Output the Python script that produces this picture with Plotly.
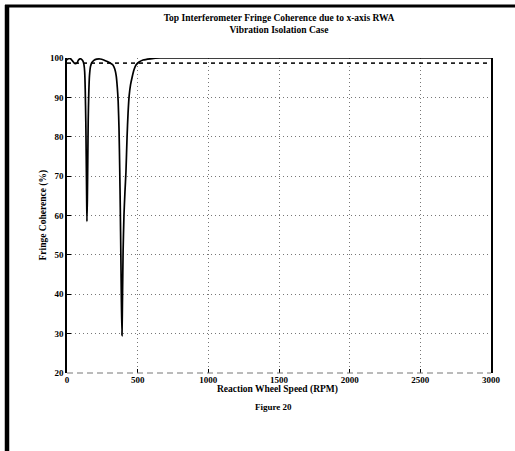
import plotly.graph_objects as go

# Reaction wheel speed (RPM) and fringe coherence (%)
rpm = [0, 12, 25, 40, 55, 70, 80, 92, 105, 113, 120, 125, 129, 133, 136, 139, 141,
       144, 147, 150, 154, 159, 166, 175, 190, 210, 235, 260, 285, 310, 325, 338,
       348, 356, 362, 368, 373, 377, 381, 385, 389, 393, 397, 403, 410, 417, 425,
       432, 440, 450, 460, 474, 488, 510, 538, 590, 660, 800, 1000, 1500, 2000,
       2500, 3000]
coherence = [99.5, 99.9, 99.8, 99.2, 98.6, 98.7, 99.4, 99.8, 99.6, 99.2, 98.3, 96.5,
             92.0, 84.0, 75.0, 65.0, 58.5, 64.0, 74.0, 84.0, 91.0, 95.5, 97.8, 98.8,
             99.4, 99.7, 99.75, 99.5, 99.1, 98.6, 98.2, 97.2, 95.5, 92.5, 89.0, 82.0,
             72.0, 62.0, 50.0, 38.0, 29.5, 40.0, 51.0, 60.0, 66.0, 71.0, 80.0, 86.0,
             90.5, 93.3, 95.0, 97.0, 98.2, 99.0, 99.5, 99.8, 100.0, 100.0, 100.0,
             100.0, 100.0, 100.0, 100.0]

requirement_rpm = [0, 3000]
requirement_level = [98.7, 98.7]

x_ticks = [0, 500, 1000, 1500, 2000, 2500, 3000]
y_ticks = [20, 30, 40, 50, 60, 70, 80, 90, 100]

title_text = ("Top Interferometer Fringe Coherence due to x-axis RWA"
              "<br>Vibration Isolation Case")
x_title = "Reaction Wheel Speed (RPM)"
y_title = "Fringe Coherence (%)"
caption = "Figure 20"

FONT = "Liberation Serif"

fig = go.Figure()
fig.add_trace(go.Scatter(x=requirement_rpm, y=requirement_level, mode="lines",
                         line=dict(color="#222", width=1.6, dash="4px,4px"),
                         hoverinfo="skip", showlegend=False))
fig.add_trace(go.Scatter(x=rpm, y=coherence, mode="lines",
                         line=dict(color="black", width=1.7, shape="spline",
                                   smoothing=0.6),
                         showlegend=False))

# plot area geometry (pixels): x 67..491, y 58..373
L, R, T, B = 67, 491, 58, 373
W, H = 515, 451


def px(p):
    return (p - L) / (R - L)


def py(p):
    return (B - p) / (B - T)


shapes = [
    # scan border: thick left bar and top bar
    dict(type="line", xref="paper", yref="paper", x0=px(7), x1=px(7),
         y0=py(5), y1=py(451), line=dict(color="black", width=4.5)),
    dict(type="line", xref="paper", yref="paper", x0=px(5), x1=px(515),
         y0=py(6), y1=py(6), line=dict(color="black", width=3)),
    # faint bottom axis line
    dict(type="line", xref="paper", yref="paper", x0=0, x1=1, y0=0, y1=0,
         line=dict(color="#777", width=1, dash="6px,4px")),
]

fig.update_layout(
    width=W, height=H,
    margin=dict(l=L, r=W - R, t=T, b=H - B),
    paper_bgcolor="white", plot_bgcolor="white",
    font=dict(family=FONT, color="black", size=10),
    title=dict(text=title_text, x=279 / W, xanchor="center", y=1 - 21 / H,
               yanchor="top", font=dict(family=FONT, size=9.5, weight="bold")),
    shapes=shapes,
    annotations=[
        dict(text=x_title, xref="paper", yref="paper", x=px(277), y=py(397),
             showarrow=False, font=dict(family=FONT, size=9.5, weight="bold")),
        dict(text=caption, xref="paper", yref="paper", x=px(273), y=py(414),
             showarrow=False, font=dict(family=FONT, size=9, weight="bold")),
        dict(text=y_title, xref="paper", yref="paper", x=px(35), y=py(215),
             textangle=-90, showarrow=False,
             font=dict(family=FONT, size=9.5, weight="bold")),
    ],
)

fig.update_xaxes(range=[0, 3000], tickvals=x_ticks, ticktext=[str(v) for v in x_ticks],
                 showgrid=True, gridcolor="#777", griddash="1px,3px", gridwidth=1,
                 showline=False, zeroline=False,
                 ticks="inside", ticklen=4, tickcolor="black",
                 tickfont=dict(family=FONT, size=9, weight="bold"))
fig.update_yaxes(range=[20, 100], tickvals=y_ticks, ticktext=[str(v) for v in y_ticks],
                 showgrid=True, gridcolor="#777", griddash="1px,3px", gridwidth=1,
                 showline=True, linecolor="black", linewidth=1.5, mirror=True,
                 zeroline=False,
                 ticks="inside", ticklen=4, tickcolor="black",
                 tickfont=dict(family=FONT, size=9, weight="bold"))

fig.write_html("out.html",
               config={"displayModeBar": False},
               post_script="document.body.style.margin='0';"
                           "document.body.style.overflow='hidden';")
